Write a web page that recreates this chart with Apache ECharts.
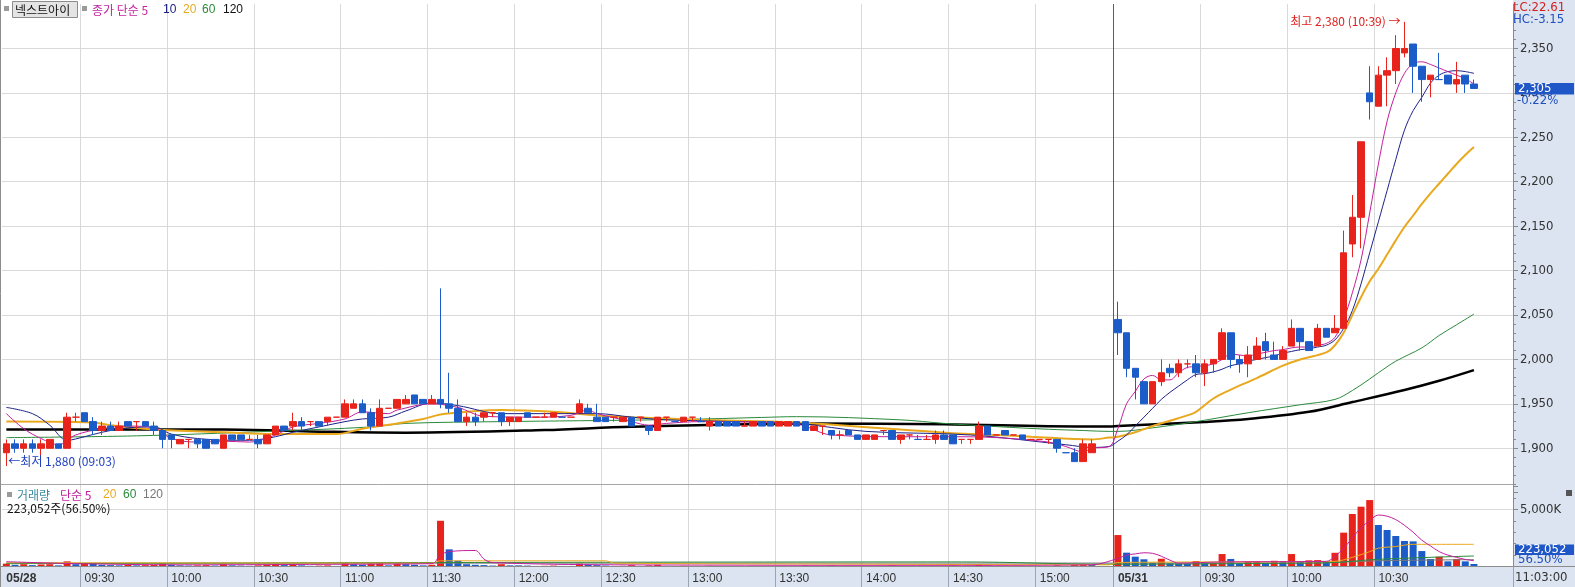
<!DOCTYPE html>
<html><head><meta charset="utf-8">
<script src="https://cdn.jsdelivr.net/npm/echarts@6/dist/echarts.min.js"></script>
<style>html,body{margin:0;padding:0;background:#fff}#c{width:1575px;height:587px}</style>
</head><body><div id="c"></div>
<script>
// ---- slots / tick labels ----
const slotCount = 174;
const tickIdx = [0, 9, 19, 29, 39, 49, 59, 69, 79, 89, 99, 109, 119, 128, 138, 148, 158];
const tickTxt = ['05/28','09:30','10:00','10:30','11:00','11:30','12:00','12:30','13:00','13:30','14:00','14:30','15:00','05/31','09:30','10:00','10:30'];
const dayBreak = 128;

// ---- candles (3-minute), day1 i0..125, gap 126-127, day2 i128..169 ----
const opens = [
1895,1905,1900,1905,1900,1900,1905,1900,1935,1940,
1930,1920,1925,1920,1930,1930,1930,1925,1920,1915,
1905,1910,1910,1910,1910,1900,1915,1915,1910,1910,
1905,1915,1925,1925,1930,1930,1930,1930,1935,1935,
1945,1950,1940,1925,1945,1945,1950,1960,1955,1950,
1955,1950,1945,1930,1935,1935,1940,1940,1930,1930,
1940,1935,1935,1935,1935,1935,1940,1945,1935,1935,
1935,1930,1935,1935,1925,1920,1935,1930,1930,1935,
1930,1925,1930,1930,1930,1925,1925,1930,1930,1925,
1925,1930,1930,1920,1925,1920,1915,1920,1915,1910,
1910,1920,1920,1910,1915,1910,1910,1910,1915,1915,
1910,1910,1910,1925,1915,1920,1915,1915,1910,1910,
1910,1910,1895,1895,1885,1895,null,null,
2045,2030,1990,1975,1950,1975,1990,1985,1995,1995,
1985,1995,2000,2030,2000,1995,2000,2020,2005,2000,
2015,2035,2020,2015,2035,2030,2035,2130,2160,2300,
2285,2320,2325,2345,2355,2330,2315,2315,2320,2310,
2320,2310];
const closes = [
1905,1900,1905,1900,1905,1910,1900,1935,1935,1930,
1920,1925,1920,1925,1925,1930,1925,1920,1910,1910,
1910,1910,1905,1900,1905,1915,1910,1910,1910,1905,
1915,1925,1920,1930,1925,1930,1925,1935,1935,1950,
1950,1940,1925,1945,1945,1955,1955,1950,1950,1955,
1950,1945,1930,1935,1930,1940,1940,1930,1935,1935,
1935,1935,1935,1940,1935,1935,1950,1940,1930,1930,
1935,1935,1925,1935,1920,1935,1935,1930,1935,1935,
1930,1930,1925,1925,1925,1925,1930,1925,1925,1930,
1930,1925,1920,1925,1925,1915,1915,1915,1910,1915,
1915,1920,1910,1915,1915,1910,1910,1915,1910,1905,
1910,1910,1925,1915,1915,1915,1915,1910,1910,1910,
1910,1900,1895,1885,1905,1905,null,null,
2030,1990,1980,1950,1975,1985,1985,1995,1995,1985,
1995,2000,2030,2000,1995,2005,2015,2010,2000,2010,
2035,2020,2010,2035,2025,2035,2120,2160,2245,2290,
2320,2325,2350,2350,2330,2315,2320,2315,2310,2315,
2310,2305];
const lows = [
1880,1895,1895,1895,1887,1900,1900,1900,1930,1930,
1915,1915,1920,1920,1925,1920,1925,1915,1900,1900,
1905,1900,1900,1900,1905,1900,1910,1910,1910,1900,
1905,1915,1920,1920,1920,1925,1925,1925,1935,1935,
1945,1940,1920,1925,1945,1945,1950,1950,1950,1950,
1945,1940,1930,1925,1925,1930,1935,1925,1925,1930,
1935,1935,1935,1935,1935,1935,1940,1940,1930,1930,
1930,1930,1925,1930,1915,1920,1930,1930,1930,1930,
1930,1920,1925,1925,1925,1925,1925,1925,1925,1925,
1925,1925,1920,1920,1915,1910,1910,1915,1910,1910,
1910,1915,1910,1905,1910,1910,1910,1905,1910,1905,
1905,1905,1910,1915,1915,1915,1915,1910,1910,1910,
1905,1895,1895,1885,1885,1895,null,null,
2005,1980,1955,1950,1950,1970,1980,1980,1990,1980,
1970,1985,2000,1990,1985,1980,2000,2000,2000,2000,
2015,2010,2010,2015,2025,2030,2035,2115,2125,2270,
2285,2285,2310,2340,2300,2290,2295,2315,2310,2300,
2300,2305];
const highs = [
1910,1910,1910,1910,1910,1910,1905,1940,1940,1940,
1935,1930,1930,1930,1930,1930,1930,1930,1920,1915,
1910,1910,1910,1910,1910,1915,1915,1915,1915,1915,
1915,1925,1925,1940,1935,1930,1930,1935,1935,1955,
1955,1955,1945,1955,1945,1955,1960,1960,1955,1960,
2080,1985,1955,1940,1940,1940,1940,1940,1935,1935,
1940,1935,1940,1940,1935,1935,1955,1950,1950,1935,
1935,1935,1935,1935,1925,1935,1935,1930,1935,1935,
1935,1935,1930,1930,1930,1930,1930,1930,1930,1930,
1930,1930,1930,1925,1925,1920,1920,1920,1915,1915,
1915,1920,1920,1915,1915,1915,1915,1920,1920,1915,
1910,1910,1930,1925,1915,1920,1915,1915,1910,1910,
1910,1910,1895,1900,1910,1910,null,null,
2065,2030,1990,1975,1975,2000,1995,2000,2000,2005,
2000,2000,2035,2030,2005,2015,2025,2030,2020,2015,
2045,2035,2020,2040,2035,2050,2145,2185,2245,2330,
2330,2340,2365,2380,2355,2330,2320,2345,2320,2335,
2320,2315];
const volumes = [
250000,150000,200000,120000,180000,200000,100000,450000,200000,300000,
250000,150000,120000,100000,130000,100000,120000,150000,250000,150000,
100000,80000,100000,120000,80000,200000,100000,80000,60000,100000,
150000,200000,120000,150000,100000,60000,80000,100000,50000,300000,
200000,150000,250000,300000,100000,250000,200000,150000,100000,150000,
4000000,1500000,500000,200000,150000,120000,80000,200000,100000,100000,
80000,50000,60000,80000,50000,50000,250000,150000,120000,80000,
50000,60000,120000,40000,100000,150000,50000,40000,60000,30000,
30000,60000,50000,40000,40000,30000,50000,40000,40000,50000,
50000,40000,80000,50000,40000,80000,40000,50000,50000,40000,
50000,30000,80000,50000,30000,30000,30000,50000,40000,80000,
30000,30000,150000,80000,30000,50000,30000,40000,30000,30000,
30000,100000,50000,150000,200000,150000,null,null,
2750000,1210000,860000,630000,330000,680000,280000,250000,240000,480000,
280000,300000,1090000,660000,280000,450000,460000,330000,500000,450000,
1090000,450000,540000,560000,450000,1200000,2960000,4590000,5230000,5810000,
3630000,3190000,2670000,2230000,2200000,1350000,660000,860000,450000,660000,
450000,223052];

// ---- moving averages: [slot, value] ----
const ma5 = [[0,1939],[2,1922],[4,1911],[6,1904],[8,1915],[11,1922],[14,1925],[17,1923],[19,1911],[22,1907],[25,1908],[28,1907],[31,1915],[33,1924],[36,1928],[39,1933],[41,1941],[44,1939],[45,1943],[49,1950],[52,1946],[55,1936],[61,1935],[65,1937],[67,1943],[68,1939],[72,1930],[74,1926],[76,1928],[80,1930],[91,1927],[95,1915],[103,1913],[109,1913],[114,1912],[120,1907],[122,1902],[124,1896],[125,1900],[127,1902],[128,1922],[129,1950],[130,1964],[131,1978],[132,1982],[133,1977],[134,1977],[135,1985],[136,1991],[137,1992],[138,1993],[139,1995],[140,2000],[141,2006],[142,2005],[143,2004],[144,2006],[145,2008],[146,2010],[147,2011],[148,2013],[149,2014],[150,2014],[151,2016],[152,2018],[153,2025],[154,2045],[155,2075],[156,2112],[157,2165],[158,2220],[159,2268],[160,2300],[161,2322],[162,2333],[163,2335],[164,2332],[165,2328],[166,2324],[167,2320],[168,2316],[169,2310]];
const ma10 = [[0,1946],[3,1939],[5,1926],[7,1909],[9,1913],[11,1918],[14,1923],[17,1924],[19,1916],[22,1911],[26,1909],[28,1909],[31,1913],[33,1918],[36,1924],[39,1930],[41,1933],[44,1935],[46,1942],[49,1951],[52,1948],[57,1939],[63,1939],[68,1939],[72,1935],[76,1932],[84,1930],[91,1928],[99,1919],[111,1915],[122,1904],[125,1901],[127,1902],[128,1908],[129,1915],[130,1925],[131,1935],[132,1945],[133,1955],[134,1963],[135,1970],[136,1977],[137,1983],[138,1984],[139,1986],[140,1989],[141,1993],[142,1995],[143,1998],[144,2000],[145,2002],[146,2004],[147,2007],[148,2009],[149,2011],[150,2012],[151,2014],[152,2016],[153,2022],[154,2035],[155,2055],[156,2085],[157,2120],[158,2155],[159,2190],[160,2225],[161,2258],[162,2280],[163,2295],[164,2311],[165,2320],[166,2324],[167,2325],[168,2324],[169,2322]];
const ma20 = [[0,1930],[10,1929],[12,1926],[17,1921],[25,1918],[31,1916],[38,1916],[41,1922],[45,1928],[48,1933],[50,1938],[53,1941],[57,1943],[63,1941],[68,1937],[72,1935],[80,1932],[88,1930],[93,1928],[96,1926],[103,1921],[109,1917],[114,1915],[118,1913],[125,1910],[127,1912],[128,1913],[130,1918],[132,1925],[134,1931],[136,1937],[137,1941],[139,1956],[141,1966],[144,1979],[147,1993],[149,2000],[152,2008],[153,2016],[154,2030],[155,2050],[156,2070],[157,2088],[158,2102],[159,2118],[160,2134],[161,2149],[162,2162],[163,2175],[164,2187],[165,2198],[166,2209],[167,2220],[168,2230],[169,2239]];
const ma60 = [[0,1912],[15,1914],[30,1919],[42,1924],[46,1928],[57,1930],[66,1931],[78,1932.5],[87,1934.7],[91,1935.6],[103,1932],[108,1928],[114,1924.4],[120,1921.4],[124,1920],[127,1919],[128,1919],[132,1923],[137,1930],[143,1940],[149,1949],[153,1955],[155,1965],[157,1978],[158,1985],[160,1998],[163,2013],[165,2027],[167,2039],[169,2051]];
const ma120 = [[0,1921],[25,1921],[35,1919],[46,1917.5],[62,1920.5],[72,1924.3],[93,1928],[108,1927],[124,1924.5],[127,1924.5],[128,1925],[138,1929.7],[143,1933],[150,1941],[155,1952],[161,1965.6],[165,1976],[169,1988]];
const vma5 = [[0,420000],[8,250000],[20,150000],[40,200000],[49,250000],[50,1000000],[51,1300000],[54,1400000],[55,650000],[56,350000],[70,150000],[110,100000],[125,150000],[128,700000],[129,1000000],[130,1100000],[131,1200000],[132,1150000],[133,900000],[134,550000],[135,300000],[140,400000],[152,450000],[153,900000],[154,1600000],[155,2500000],[156,3400000],[157,4000000],[158,4500000],[159,4400000],[160,4100000],[161,3600000],[162,3000000],[163,2300000],[164,1800000],[165,1300000],[166,1000000],[167,800000],[168,620000],[169,500000]];
const vma20 = [[0,330000],[49,300000],[50,500000],[69,500000],[70,300000],[100,200000],[127,150000],[128,350000],[150,420000],[153,450000],[155,800000],[157,1300000],[158,1600000],[160,1750000],[162,1940000],[169,1940000]];
const vma60 = [[0,250000],[50,350000],[110,400000],[127,200000],[150,300000],[153,350000],[158,630000],[169,920000]];
const vma120 = [[0,280000],[127,300000],[150,300000],[158,500000],[169,600000]];

const lastPrice = 2305;

// ---- styling ----
const RED = '#e8231b', BLUE = '#1c5cc8';
const C5 = '#c41f9e', C10 = '#1e2288', C20 = '#e9a81e', C60 = '#2a8a3c', C120 = '#000000';
const FONT = "'Liberation Sans', 'Noto Sans CJK KR', sans-serif";
const NARROW = "'Liberation Sans Narrow', 'DejaVu Sans Condensed', 'Liberation Sans', 'Noto Sans CJK KR', sans-serif";
const KR = "'Noto Sans CJK KR', 'Liberation Sans', sans-serif";
const GRID = '#d9d9d9', AXIS = '#8a8a8a', PANEL = '#dbe4f0';

const slots = Array.from({length: slotCount}, (_, i) => String(i));
const isTick = i => tickIdx.indexOf(i) >= 0;
const isGrid = i => isTick(i) && i !== 0 && i !== dayBreak;

const candleData = opens.map((o, i) => o == null ? '-' : [o, closes[i], lows[i], highs[i]]);
const volData = volumes.map(v => v == null ? '-' : v);
function prevVol(i){ for (let j = i - 1; j >= 0; j--) if (volumes[j] != null) return volumes[j]; return 0; }

const chart = echarts.init(document.getElementById('c'), null, {width: 1575, height: 587});

function lineSeries(name, data, color, width, xi, yi){
  return {name, type:'line', xAxisIndex:xi, yAxisIndex:yi, data, showSymbol:false, symbol:'none', smooth:0.35,
    lineStyle:{color, width}, z: 3, silent:true};
}
function hiddenCat(grid, fn, color){
  return {type:'category', gridIndex:grid, data:slots, boundaryGap:true, axisLine:{show:false}, axisTick:{show:false},
    axisLabel:{show:false}, splitLine:{show:true, interval:(i)=>fn(i), lineStyle:{color, width:1}}};
}
// day divider: two ticks (0 and the break) so the band logic keeps real positions; first one transparent
const breakFn = i => i === 0 || i === dayBreak;
const breakColors = ['rgba(0,0,0,0)', '#e8231b'];

const option = {
  animation:false,
  backgroundColor:'#ffffff',
  grid:[
    {left:2, top:4.05, width:1511, height:488.65},
    {left:2, top:486, width:1511, height:80.5}
  ],
  xAxis:[
    hiddenCat(0, isGrid, GRID),
    {type:'category', gridIndex:1, data:slots, boundaryGap:true, position:'bottom',
      axisLine:{show:false},
      axisTick:{show:true, interval:(i)=>isTick(i) && i!==0, length:21, lineStyle:{color:'#9aa5b3'}},
      axisLabel:{interval:(i)=>isTick(i), align:'left', margin:6, color:'#333', fontSize:12, fontFamily:FONT,
        formatter:(v, i)=>{ const k = tickIdx.indexOf(i); if (k<0) return ''; const t = tickTxt[k]; return t.indexOf('/')>0 ? '{b|'+t+'}' : t; },
        rich:{b:{fontWeight:'bold', fontSize:12, color:'#333', fontFamily:FONT}}},
      splitLine:{show:true, interval:(i)=>isGrid(i), lineStyle:{color:GRID}}},
    hiddenCat(0, breakFn, breakColors),
    hiddenCat(1, breakFn, breakColors)
  ],
  yAxis:[
    {type:'value', gridIndex:0, position:'right', min:1850, max:2400, interval:50,
      axisLine:{show:true, lineStyle:{color:AXIS}},
      axisTick:{show:true, length:5, lineStyle:{color:AXIS}},
      minorTick:{show:true, splitNumber:5, length:3, lineStyle:{color:AXIS}},
      axisLabel:{showMinLabel:false, showMaxLabel:false, margin:7, color:'#333', fontSize:13, fontFamily:NARROW,
        formatter:v=>v.toLocaleString('en-US')},
      splitLine:{show:true, showMinLine:false, showMaxLine:false, lineStyle:{color:GRID}}},
    {type:'value', gridIndex:1, position:'right', min:0, max:7040000, interval:5000000,
      axisLine:{show:true, lineStyle:{color:AXIS}},
      axisTick:{show:true, length:5, lineStyle:{color:AXIS}},
      minorTick:{show:true, splitNumber:5, length:3, lineStyle:{color:AXIS}},
      axisLabel:{showMinLabel:false, showMaxLabel:false, margin:7, color:'#333', fontSize:13, fontFamily:NARROW,
        formatter:v=>(v/1000).toLocaleString('en-US')+'K'},
      splitLine:{show:true, showMinLine:false, showMaxLine:false, lineStyle:{color:GRID}}}
  ],
  series:[
    {name:'price', type:'candlestick', xAxisIndex:0, yAxisIndex:0, data:candleData, barWidth:7,
      itemStyle:{color:RED, color0:BLUE, borderColor:RED, borderColor0:BLUE, borderWidth:1}, z:4,
      markPoint:{symbol:'circle', symbolSize:0, silent:true, animation:false, data:[
        {coord:[161, 2380], label:{show:true, position:'left', distance:4, formatter:'최고 2,380 (10:39) →', color:'#e0201e', fontSize:12, fontFamily:KR}},
        {coord:[0, 1880], label:{show:true, position:'right', distance:2, offset:[0,-5], formatter:'←최저 1,880 (09:03)', color:'#1d3fbf', fontSize:12, fontFamily:KR}}
      ]}},
    lineSeries('ma120', ma120, C120, 2.5, 0, 0),
    lineSeries('ma60', ma60, C60, 1, 0, 0),
    lineSeries('ma20', ma20, C20, 2, 0, 0),
    lineSeries('ma10', ma10, C10, 1, 0, 0),
    lineSeries('ma5', ma5, C5, 1, 0, 0),
    {name:'vol', type:'bar', xAxisIndex:1, yAxisIndex:1, data:volData, barWidth:7, z:2,
      itemStyle:{color:(p)=> volumes[p.dataIndex] > prevVol(p.dataIndex) ? RED : BLUE}},
    lineSeries('vma120', vma120, '#777777', 1, 1, 1),
    lineSeries('vma60', vma60, C60, 1, 1, 1),
    lineSeries('vma20', vma20, C20, 1, 1, 1),
    lineSeries('vma5', vma5, C5, 1, 1, 1)
  ]
};
chart.setOption(option);

// ---- frame, legends, price tags ----
const py = chart.convertToPixel({yAxisIndex:0}, lastPrice);
function txt(text, x, y, fill, font, extra){ return Object.assign({type:'text', silent:true, z:50, style:{text, x, y, fill, font, verticalAlign:'middle', align:'left'}}, extra||{}); }
chart.setOption({graphic:[
  {type:'rect', silent:true, z:-100, shape:{x:1513, y:0, width:62, height:587}, style:{fill:PANEL}},
  {type:'rect', silent:true, z:-100, shape:{x:0, y:567, width:1575, height:20}, style:{fill:PANEL}},
  {type:'line', silent:true, z:40, shape:{x1:0, y1:566.5, x2:1575, y2:566.5}, style:{stroke:'#8c8c8c', lineWidth:1}},
  {type:'line', silent:true, z:40, shape:{x1:0, y1:484.5, x2:1513, y2:484.5}, style:{stroke:'#a6a6a6', lineWidth:1}},
  {type:'line', silent:true, z:40, shape:{x1:0.5, y1:0, x2:0.5, y2:587}, style:{stroke:'#8c8c8c', lineWidth:1}},
  // main legend
  {type:'rect', silent:true, z:50, shape:{x:4, y:6, width:5, height:5}, style:{fill:'#9a9a9a'}},
  {type:'rect', silent:true, z:50, shape:{x:12.5, y:1.5, width:65, height:16}, style:{fill:'#e4e4e4', stroke:'#8c8c8c', lineWidth:1}},
  txt('넥스트아이', 15, 10, '#111', '12px '+KR),
  {type:'rect', silent:true, z:50, shape:{x:82, y:6, width:5, height:5}, style:{fill:'#9a9a9a'}},
  txt('종가 단순 5', 92, 10, C5, '12px '+KR),
  txt('10', 163, 10, C10, '12px '+FONT),
  txt('20', 183, 10, C20, '12px '+FONT),
  txt('60', 202, 10, C60, '12px '+FONT),
  txt('120', 223, 10, '#111', '12px '+FONT),
  // volume legend
  {type:'rect', silent:true, z:50, shape:{x:7, y:492, width:5, height:5}, style:{fill:'#9a9a9a'}},
  txt('거래량', 17, 495, '#3b8aa2', '12px '+KR),
  txt('단순 5', 60, 495, C5, '12px '+KR),
  txt('20', 103, 495, C20, '12px '+FONT),
  txt('60', 123, 495, C60, '12px '+FONT),
  txt('120', 143, 495, '#777', '12px '+FONT),
  txt('223,052주(56.50%)', 7, 508, '#111', '12px '+KR),
  // right panel
  txt('LC:22.61', 1513, 8, '#d42020', '13px '+NARROW),
  txt('HC:-3.15', 1513, 19.5, '#2050c0', '13px '+NARROW),
  {type:'rect', silent:true, z:50, shape:{x:1515, y:py-5.5, width:59, height:11.5}, style:{fill:'#1f57c8'}},
  txt('2,305', 1518, py+0.5, '#ffffff', '13px '+NARROW),
  txt('-0.22%', 1517, py+12, '#2050c0', '13px '+NARROW),
  {type:'rect', silent:true, z:50, shape:{x:1515, y:544.5, width:59, height:10.5}, style:{fill:'#1f57c8'}},
  txt('223,052', 1518, 550, '#ffffff', '13px '+NARROW),
  txt('56.50%', 1518, 560, '#2050c0', '13px '+NARROW),
  {type:'rect', silent:true, z:50, shape:{x:1566, y:490, width:6, height:6}, style:{fill:'#555'}},
  txt('11:03:00', 1515, 577.5, '#333', '13px '+NARROW)
]});
</script>
</body></html>
